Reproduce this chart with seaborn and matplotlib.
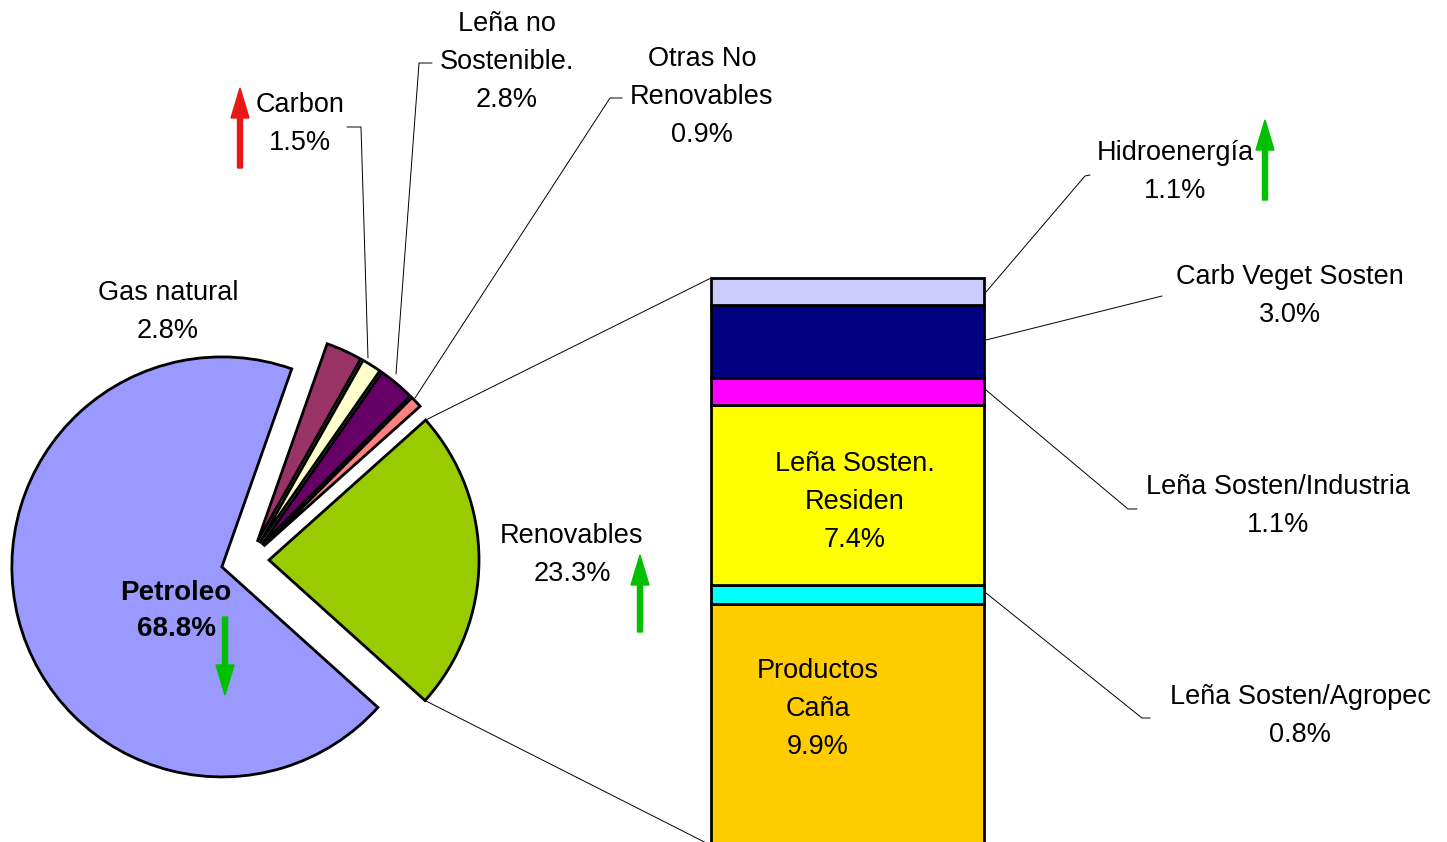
import numpy as np
import seaborn as sns
import matplotlib.pyplot as plt

# pie (counter-clockwise, starting with Renovables)
pie_labels = ['Renovables', 'Otras No\nRenovables', 'Leña no\nSostenible.', 'Carbon', 'Gas natural', 'Petroleo']
pie_values = [23.3, 0.9, 2.8, 1.5, 2.8, 68.8]
pie_colors = ['#99CC00', '#FF8080', '#660066', '#FFFFCC', '#993366', '#9999FF']

# bar of Renovables, bottom to top
bar_labels = ['Productos\nCaña', 'Leña Sosten/Agropec', 'Leña Sosten.\nResiden', 'Leña Sosten/Industria',
              'Carb Veget Sosten', 'Hidroenergía']
bar_values = [9.9, 0.8, 7.4, 1.1, 3.0, 1.1]
bar_colors = ['#FFCC00', '#00FFFF', '#FFFF00', '#FF00FF', '#000080', '#CCCCFF']

W, H = 1447, 842


def Y(y):
    # image row -> data y
    return H - y


sns.set_theme(style='white')
plt.rcParams['font.family'] = ['Liberation Sans', 'DejaVu Sans']

fig = plt.figure(figsize=(W / 100, H / 100), dpi=100)
ax = fig.add_axes([0, 0, 1, 1])

explode = [20, 20, 20, 20, 20, 28]
wedges, _ = ax.pie(pie_values, colors=pie_colors, startangle=-42, explode=explode,
                   radius=210, center=(249, Y(560)), counterclock=True,
                   wedgeprops=dict(edgecolor='black', linewidth=2))
ax.set_xlim(0, W)
ax.set_ylim(0, H)
ax.set_aspect('equal')
ax.axis('off')

# stacked bar (runs off the bottom edge like the original)
k = 24.35
bar_x, bar_w = 847.5, 273
bar_top = Y(278)
bottoms = bar_top - sum(bar_values) * k + np.concatenate([[0], np.cumsum(bar_values)[:-1]]) * k
for v, b, c in zip(bar_values, bottoms, bar_colors):
    ax.bar(bar_x, v * k, bottom=b, width=bar_w, color=c, edgecolor='black', linewidth=2,
           zorder=3, clip_on=True)
bar_left = bar_x - bar_w / 2
bar_bottom = bottoms[0]

# connectors from the green wedge to the bar
g = wedges[0]
for th, by in [(g.theta2, bar_top), (g.theta1, bar_bottom)]:
    cx = g.center[0] + g.r * np.cos(np.radians(th))
    cy = g.center[1] + g.r * np.sin(np.radians(th))
    ax.plot([cx, bar_left], [cy, by], color='black', lw=0.7, zorder=2)

fs = 19.5
txt = dict(ha='center', va='center', fontsize=fs, linespacing=1.62, color='black')

# pie labels
ax.text(168, Y(312), 'Gas natural\n2.8%', **txt)
ax.text(300, Y(124), 'Carbon\n1.5%', **txt)
ax.text(507, Y(62), 'Leña no\nSostenible.\n2.8%', **txt)
ax.text(702, Y(97), 'Otras No\nRenovables\n0.9%', **txt)
ax.text(572, Y(555), 'Renovables\n23.3%', **txt)
ax.text(176, Y(611), 'Petroleo\n68.8%', ha='center', va='center', fontsize=20,
        fontweight='bold', linespacing=1.55, color='black')

# bar labels
ax.text(855, Y(502), 'Leña Sosten.\nResiden\n7.4%', **txt)
ax.text(818, Y(709), 'Productos\nCaña\n9.9%', **txt)
ax.text(1175, Y(172), 'Hidroenergía\n1.1%', **txt)
ax.text(1290, Y(296), 'Carb Veget Sosten\n3.0%', **txt)
ax.text(1278, Y(506), 'Leña Sosten/Industria\n1.1%', **txt)
ax.text(1300, Y(716), 'Leña Sosten/Agropec\n0.8%', **txt)

# leader lines
leaders = [
    [(347, 127), (361, 127), (368, 358)],
    [(432, 63), (419, 63), (396, 374)],
    [(622, 98), (610, 98), (415, 398)],
    [(1090, 175), (1085, 176), (986, 292)],
    [(1162, 296), (986, 340)],
    [(1137, 509), (1128, 509), (986, 390)],
    [(1150, 718), (1142, 718), (986, 593)],
]
for pts in leaders:
    xs, ys = zip(*pts)
    ax.plot(xs, [Y(y) for y in ys], color='black', lw=0.7, zorder=2)

# trend arrows
arrows = [(240, 168, 88, '#E81818'), (225, 617, 695, '#00C000'),
          (640, 632, 555, '#00C000'), (1265, 200, 120, '#00C000')]
for x, y0, y1, c in arrows:
    ax.arrow(x, Y(y0), 0, Y(y1) - Y(y0), width=5, head_width=18, head_length=30,
             length_includes_head=True, color=c, zorder=4)

fig.savefig('out.png', dpi=100)
